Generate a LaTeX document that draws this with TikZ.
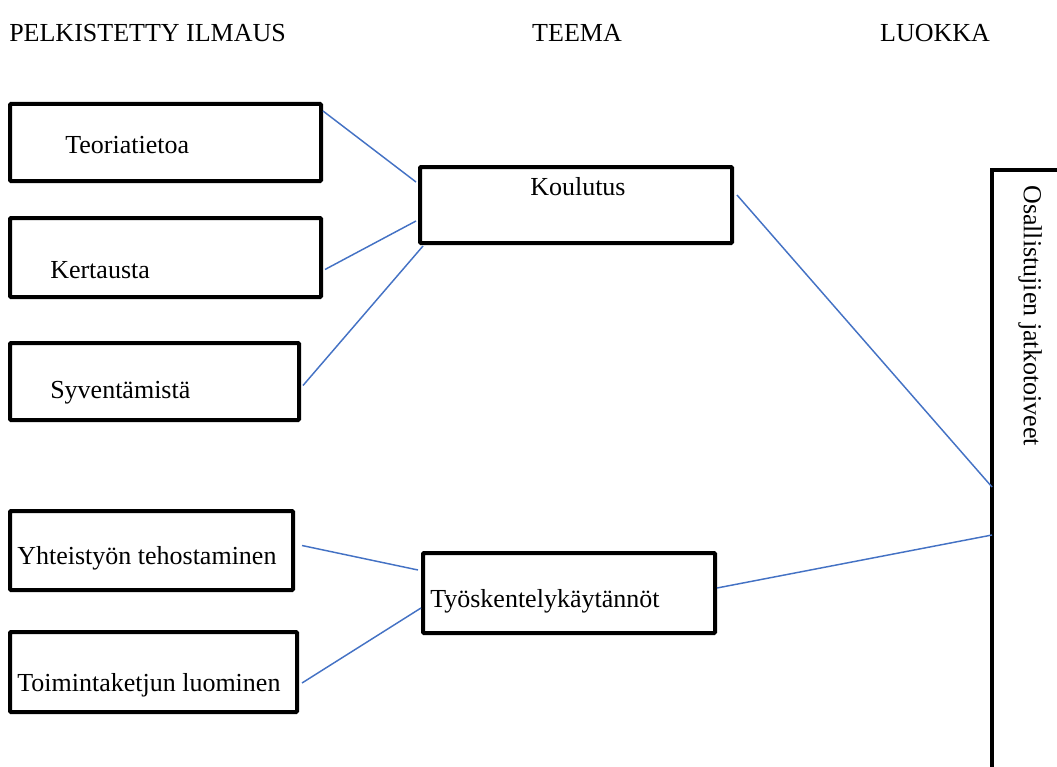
\documentclass[tikz,border=0pt]{standalone}
\usepackage{fontspec}
\setmainfont{Liberation Serif}
\usetikzlibrary{calc}
\definecolor{conn}{HTML}{4472C4}
\begin{document}
\begin{tikzpicture}[x=0.75pt,y=-0.75pt,
  box/.style={draw=black,line width=3pt,rounded corners=0.8pt,inner sep=0pt},
  lbl/.style={font=\fontsize{19.5pt}{23pt}\selectfont,inner sep=0pt,anchor=west},
  hdr/.style={font=\fontsize{19.5pt}{23pt}\selectfont,inner sep=0pt},
  conline/.style={draw=conn,line width=1.1pt}]
\useasboundingbox (0,0) rectangle (1057,767);
% headers
\node[hdr,anchor=west] (h1) at (9,33) {PELKISTETTY ILMAUS};
\node[hdr] (h2) at (577,33) {TEEMA};
\node[hdr] (h3) at (935,33) {LUOKKA};
% left boxes
\node[box,minimum width=233.25pt,minimum height=57.75pt] (teo) at (165.5,142.5) {};
\node[box,minimum width=233.25pt,minimum height=59.25pt] (ker) at (165.5,257.5) {};
\node[box,minimum width=216.75pt,minimum height=57.75pt] (syv) at (154.5,381.5) {};
\node[box,minimum width=212.25pt,minimum height=59.25pt] (yht) at (151.5,550.5) {};
\node[box,minimum width=215.25pt,minimum height=60pt] (toi) at (153.5,672) {};
% theme boxes
\node[box,minimum width=234pt,minimum height=57pt] (kou) at (576,205) {};
\node[box,minimum width=219pt,minimum height=60pt] (tyo) at (569,593) {};
% texts
\node[lbl] (teoT) at (65,145) {Teoriatietoa};
\node[lbl] (kerT) at (50,270) {Kertausta};
\node[lbl] (syvT) at (50,393) {Syventämistä};
\node[lbl] (yhtT) at (17,558) {Yhteistyön tehostaminen};
\node[lbl] (toiT) at (17,685) {Toimintaketjun luominen};
\node[lbl] (kouT) at (530,187) {Koulutus};
\node[lbl] (tyoT) at (430,601) {Työskentelykäytännöt};
% class box (open)
\draw[line width=3.5pt] (992,767) -- (992,170) -- (1057,170);
\coordinate (lk1) at (992,487);
\coordinate (lk2) at (992,535);
\node[hdr,rotate=-90,anchor=west] (lkT) at (1030,185) {Osallistujien jatkotoiveet};
% connectors
\draw[conline] ($(teo.north east)+(0,9)$) -- ($(kou.west)+(-2,-23)$);
\draw[conline] ($(ker.east)+(2,12)$) -- ($(kou.west)+(-2,16)$);
\draw[conline] ($(syv.east)+(2,4)$) -- ($(kou.south west)+(5,1)$);
\draw[conline] ($(kou.east)+(3,-10)$) -- (lk1);
\draw[conline] ($(yht.east)+(7,-5)$) -- ($(tyo.west)+(-3,-23)$);
\draw[conline] ($(toi.east)+(3,11)$) -- ($(tyo.west)+(0,15)$);
\draw[conline] ($(tyo.east)+(0,-5)$) -- (lk2);
\end{tikzpicture}
\end{document}
